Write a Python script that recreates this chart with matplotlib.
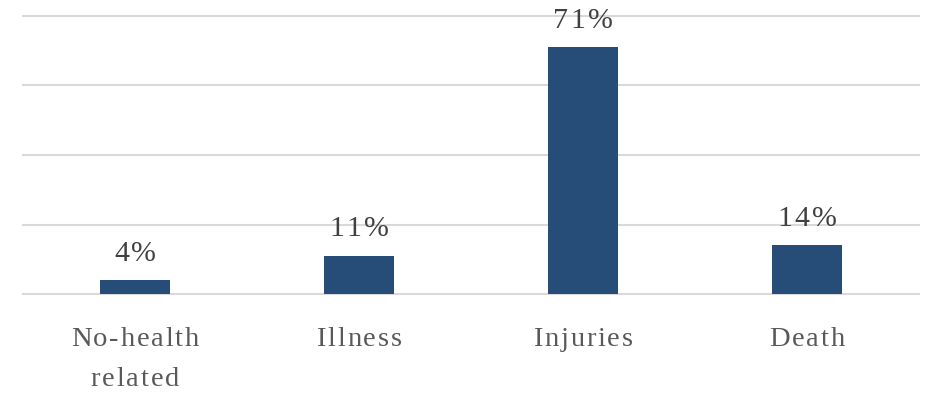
import numpy as np
import matplotlib.pyplot as plt
from matplotlib.font_manager import FontProperties, findfont, get_font
from matplotlib.transforms import ScaledTranslation, blended_transform_factory

# categories and shares (%)
categories = ['No-health\nrelated', 'Illness', 'Injuries', 'Death']
shares = [4, 11, 71, 14]
grid_levels = [0, 20, 40, 60, 80]

BAR_COLOR = '#264D77'
GRID_COLOR = '#D9D9D9'
TEXT_COLOR = '#595959'
VALUE_COLOR = '#404040'
DPI = 100

plt.rcParams['font.family'] = ['Liberation Serif', 'DejaVu Serif']


def advances(s, size):
    # per-glyph horizontal advance in pixels
    font = get_font(findfont(FontProperties(family='Liberation Serif')))
    font.set_size(size, DPI)
    return [font.load_char(ord(c)).linearHoriAdvance / 65536 for c in s]


def tracked_text(fig, trans, x, y, s, size, color, tracking, dy_px=0):
    adv = advances(s, size)
    total = sum(adv) + tracking * (len(s) - 1)
    pos = -total / 2
    for c, a in zip(s, adv):
        off = ScaledTranslation(pos / DPI, dy_px / DPI, fig.dpi_scale_trans)
        fig.text(x, y, c, transform=trans + off, fontsize=size, color=color,
                 ha='left', va='baseline')
        pos += a + tracking


fig = plt.figure(figsize=(9.26, 3.94), dpi=DPI)
ax = fig.add_axes([0.0248, 0.2538, 0.9676, 0.7056])

x = np.arange(len(categories))
for g in grid_levels:
    ax.axhline(g, color=GRID_COLOR, lw=1.5, zorder=0, clip_on=False)

ax.bar(x, shares, width=0.3125, color=BAR_COLOR, zorder=2)

ax.set_xlim(-0.5, len(categories) - 0.5)
ax.set_ylim(0, 80)
ax.set_xticks([])
ax.set_yticks([])
for s in ax.spines.values():
    s.set_visible(False)

# value labels above the bars
for xi, v in zip(x, shares):
    tracked_text(fig, ax.transData, xi, v, f'{v}%', 21.5, VALUE_COLOR, 2.3,
                 dy_px=19.5)

# category labels below the baseline
xaxis_trans = blended_transform_factory(ax.transData, ax.transAxes)
for xi, lab in zip(x, categories):
    for k, line in enumerate(lab.split('\n')):
        tracked_text(fig, xaxis_trans, xi, 0, line, 20.5, TEXT_COLOR, 1.8,
                     dy_px=-52 - 40 * k)

fig.savefig('out.png', dpi=DPI)
